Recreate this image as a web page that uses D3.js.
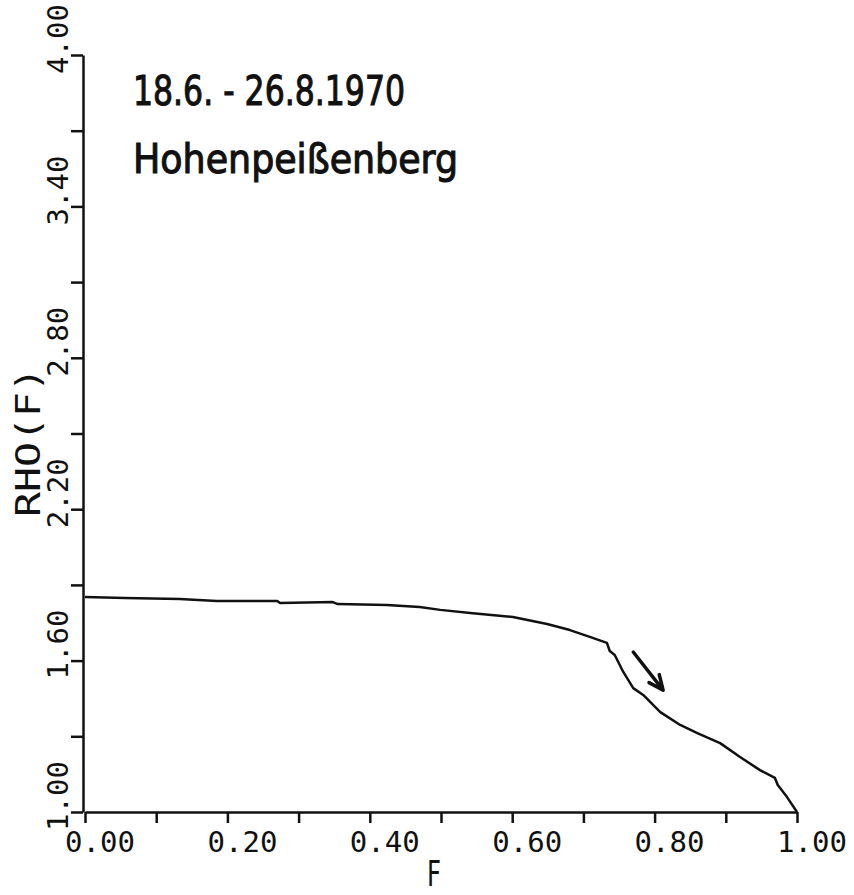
<!DOCTYPE html>
<html>
<head>
<meta charset="utf-8">
<script src="https://cdn.jsdelivr.net/npm/d3@7"></script>
<style>
  html, body { margin: 0; padding: 0; background: #fff; }
  svg { display: block; }
</style>
</head>
<body>
<svg id="chart" width="854" height="895"></svg>
<script>
// ---- data ----
const F = [0.000, 0.056, 0.133, 0.185, 0.270, 0.274, 0.348, 0.355, 0.424, 0.470, 0.499, 0.541,
           0.601, 0.649, 0.681, 0.709, 0.733, 0.737, 0.744, 0.756, 0.770, 0.784, 0.808, 0.836,
           0.860, 0.892, 0.920, 0.948, 0.969, 0.973, 0.986, 1.000];
const RHO = [1.852, 1.848, 1.844, 1.836, 1.836, 1.828, 1.832, 1.824, 1.820, 1.812, 1.801, 1.789,
             1.773, 1.745, 1.721, 1.694, 1.670, 1.638, 1.622, 1.555, 1.491, 1.464, 1.396, 1.345,
             1.313, 1.273, 1.218, 1.166, 1.135, 1.107, 1.059, 1.000];
const xTicks = [0.0, 0.1, 0.2, 0.3, 0.4, 0.5, 0.6, 0.7, 0.8, 0.9, 1.0];
const xTickLabels = ["0.00", "", "0.20", "", "0.40", "", "0.60", "", "0.80", "", "1.00"];
const yTicks = [1.0, 1.3, 1.6, 1.9, 2.2, 2.5, 2.8, 3.1, 3.4, 3.7, 4.0];
const yTickLabels = ["1.00", "", "1.60", "", "2.20", "", "2.80", "", "3.40", "", "4.00"];
const titleLines = ["18.6. - 26.8.1970", "Hohenpeißenberg"];
const xLabel = "F";
const yLabel = "RHO(F)";
const arrowFrom = [0.770, 1.634];
const arrowTo = [0.812, 1.483];

// ---- drawing ----
const svg = d3.select("#chart");
const x = d3.scaleLinear().domain([0, 1]).range([85, 797]);
const y = d3.scaleLinear().domain([1, 4]).range([812, 55]);
const ink = "#111";

// x axis
const gx = svg.append("g").attr("transform", "translate(0,812)")
  .call(d3.axisBottom(x).tickValues(xTicks).tickSize(11).tickSizeOuter(0).tickFormat(""));
gx.select(".domain").attr("stroke", ink).attr("stroke-width", 2.5);
gx.selectAll(".tick line").attr("stroke", ink).attr("stroke-width", 2.5);

svg.append("g").selectAll("text").data(xTicks.map((v, i) => [v, xTickLabels[i]]).filter(d => d[1]))
  .join("text")
  .attr("x", d => x(d[0]) + 15)
  .attr("y", 852)
  .attr("text-anchor", "middle")
  .attr("font-family", "DejaVu Sans Mono")
  .attr("font-size", 29)
  .attr("textLength", 70)
  .attr("lengthAdjust", "spacingAndGlyphs")
  .attr("fill", ink)
  .text(d => d[1]);

// y axis
const gy = svg.append("g").attr("transform", "translate(83,0)")
  .call(d3.axisLeft(y).tickValues(yTicks).tickSize(12).tickSizeOuter(0).tickFormat(""));
gy.select(".domain").attr("stroke", ink).attr("stroke-width", 2.5);
gy.selectAll(".tick line").attr("stroke", ink).attr("stroke-width", 2.5);

svg.append("g").selectAll("text").data(yTicks.map((v, i) => [v, yTickLabels[i]]).filter(d => d[1]))
  .join("text")
  .attr("transform", d => `translate(68,${y(d[0]) - 16}) rotate(-90)`)
  .attr("text-anchor", "middle")
  .attr("font-family", "DejaVu Sans Mono")
  .attr("font-size", 29)
  .attr("textLength", 70)
  .attr("lengthAdjust", "spacingAndGlyphs")
  .attr("fill", ink)
  .text(d => d[1]);

// axis titles
svg.append("text")
  .attr("x", 434).attr("y", 886)
  .attr("text-anchor", "middle")
  .attr("font-family", "DejaVu Sans")
  .attr("font-size", 36)
  .attr("textLength", 14)
  .attr("lengthAdjust", "spacingAndGlyphs")
  .attr("fill", ink)
  .text(xLabel);

svg.append("text")
  .attr("transform", "translate(40,442) rotate(-90)")
  .attr("text-anchor", "middle")
  .attr("font-family", "DejaVu Sans Mono")
  .attr("font-size", 34)
  .attr("textLength", 150)
  .attr("lengthAdjust", "spacingAndGlyphs")
  .attr("fill", ink)
  .text(yLabel);

// title block
[[titleLines[0], 105, 272], [titleLines[1], 173, 325]].forEach(([t, by, len]) => {
  svg.append("text")
    .attr("x", 133).attr("y", by)
    .attr("font-family", "DejaVu Sans")
    .attr("font-size", 40)
    .attr("textLength", len)
    .attr("lengthAdjust", "spacingAndGlyphs")
    .attr("fill", ink)
    .attr("stroke", ink)
    .attr("stroke-width", 1.1)
    .text(t);
});

// curve
const pts = F.map((f, i) => [f, RHO[i]]);
svg.append("path")
  .datum(pts)
  .attr("fill", "none")
  .attr("stroke", ink)
  .attr("stroke-width", 2.5)
  .attr("stroke-linejoin", "round")
  .attr("d", d3.line().x(d => x(d[0])).y(d => y(d[1])));

// arrow annotation
const ax0 = x(arrowFrom[0]), ay0 = y(arrowFrom[1]);
const ax1 = x(arrowTo[0]), ay1 = y(arrowTo[1]);
const ang = Math.atan2(ay1 - ay0, ax1 - ax0);
const L = 16, spread = 0.42;
const b1 = [ax1 - L * Math.cos(ang - spread), ay1 - L * Math.sin(ang - spread)];
const b2 = [ax1 - L * Math.cos(ang + spread), ay1 - L * Math.sin(ang + spread)];
svg.append("path")
  .attr("fill", "none")
  .attr("stroke", ink)
  .attr("stroke-width", 3.5)
  .attr("stroke-linecap", "round")
  .attr("stroke-linejoin", "round")
  .attr("d", `M${ax0},${ay0}L${ax1},${ay1}M${b1[0]},${b1[1]}L${ax1},${ay1}L${b2[0]},${b2[1]}`);
</script>
</body>
</html>
